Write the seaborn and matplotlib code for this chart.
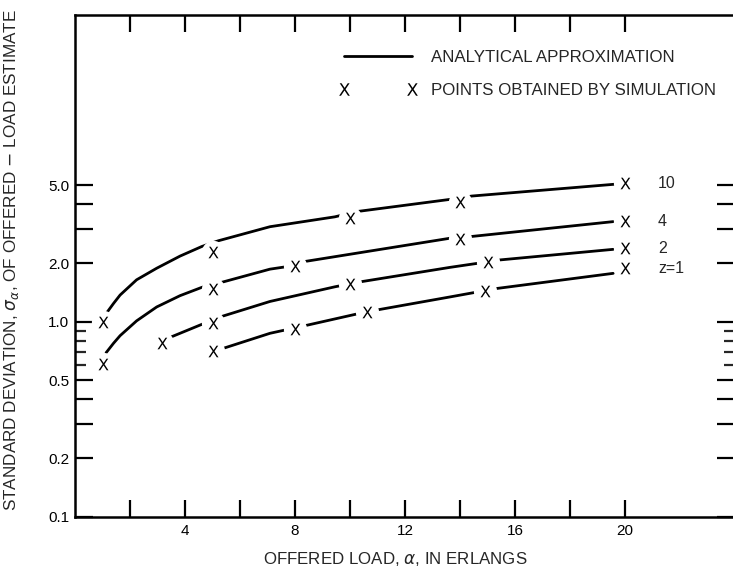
import numpy as np
import pandas as pd
import matplotlib
matplotlib.use('Agg')
import matplotlib.pyplot as plt
from matplotlib.lines import Line2D
from matplotlib.ticker import FixedLocator, FuncFormatter
import seaborn as sns

# analytical approximation curves
curve_z10_x = [1.13, 1.40, 1.64, 2.24, 2.97, 3.82, 4.61, 5.21, 7.09, 9.45, 10.24, 13.64, 14.43, 19.70]
curve_z10_y = [1.10, 1.24, 1.37, 1.64, 1.88, 2.17, 2.43, 2.60, 3.07, 3.45, 3.67, 4.24, 4.41, 5.08]
curve_z4_x = [1.13, 1.40, 1.64, 2.24, 2.97, 3.82, 4.61, 5.39, 7.09, 7.64, 8.30, 13.64, 14.36, 19.57]
curve_z4_y = [0.693, 0.775, 0.848, 1.01, 1.19, 1.36, 1.50, 1.60, 1.86, 1.91, 2.03, 2.68, 2.73, 3.26]
curve_z2_x = [3.52, 4.64, 5.39, 7.09, 9.45, 10.36, 13.64, 14.61, 15.39, 19.57]
curve_z2_y = [0.838, 0.973, 1.07, 1.27, 1.51, 1.60, 1.90, 1.99, 2.07, 2.35]
curve_z1_x = [5.39, 7.09, 8.36, 10.18, 10.97, 13.64, 15.33, 19.57]
curve_z1_y = [0.73, 0.872, 0.954, 1.09, 1.148, 1.34, 1.48, 1.77]

# simulation points
sim_z10_x = [1, 5, 10, 14, 20]
sim_z10_y = [1.0, 2.28, 3.40, 4.13, 5.12]
sim_z4_x = [1, 5, 8, 14, 20]
sim_z4_y = [0.61, 1.48, 1.93, 2.65, 3.28]
sim_z2_x = [3.15, 5, 10, 15, 20]
sim_z2_y = [0.775, 0.98, 1.56, 2.03, 2.38]
sim_z1_x = [5, 8, 10.6, 14.9, 20]
sim_z1_y = [0.71, 0.914, 1.117, 1.44, 1.88]

z_labels = ['10', '4', '2', 'z=1']

curves = pd.concat([
    pd.DataFrame({'x': curve_z10_x, 'y': curve_z10_y, 'z': '10'}),
    pd.DataFrame({'x': curve_z4_x, 'y': curve_z4_y, 'z': '4'}),
    pd.DataFrame({'x': curve_z2_x, 'y': curve_z2_y, 'z': '2'}),
    pd.DataFrame({'x': curve_z1_x, 'y': curve_z1_y, 'z': 'z=1'}),
])
sims = pd.concat([
    pd.DataFrame({'x': sim_z10_x, 'y': sim_z10_y, 'z': '10'}),
    pd.DataFrame({'x': sim_z4_x, 'y': sim_z4_y, 'z': '4'}),
    pd.DataFrame({'x': sim_z2_x, 'y': sim_z2_y, 'z': '2'}),
    pd.DataFrame({'x': sim_z1_x, 'y': sim_z1_y, 'z': 'z=1'}),
])

sns.set_theme(style='white')
plt.rcParams['font.family'] = ['Liberation Sans', 'DejaVu Sans']
plt.rcParams['mathtext.fontset'] = 'dejavusans'

W, H = 733, 570
fig = plt.figure(figsize=(W / 100, H / 100), dpi=100)
ax = fig.add_axes([75 / W, 53.3 / H, 660 / W, 501.7 / H])

pal = {k: 'black' for k in z_labels}
sns.lineplot(data=curves, x='x', y='y', hue='z', palette=pal, estimator=None,
             sort=False, linewidth=2.0, legend=False, ax=ax, zorder=2)
# white halo behind each X so the curves break around the points
ax.scatter(sims['x'], sims['y'], s=280, marker='o', color='white', linewidths=0, zorder=3)
xmark = r'$\mathsf{X}$'
sns.scatterplot(data=sims, x='x', y='y', marker=xmark, color='black', s=70,
                linewidth=0, legend=False, ax=ax, zorder=4)

# curve labels at right end
for lab, yv in zip(z_labels, [sim_z10_y[-1], sim_z4_y[-1], sim_z2_y[-1], sim_z1_y[-1]]):
    ax.text(21.2, yv, lab, fontsize=11.5, va='center', ha='left')

ax.set_yscale('log')
ax.set_xlim(0, 24)
ax.set_ylim(0.1, 37.4)

ylong = [0.1, 0.2, 0.3, 0.4, 0.5, 1.0, 2.0, 3.0, 4.0, 5.0]
yshort = [0.6, 0.7, 0.8, 0.9]
ylabeled = [0.1, 0.2, 0.5, 1.0, 2.0, 5.0]
ax.yaxis.set_major_locator(FixedLocator(ylong))
ax.yaxis.set_minor_locator(FixedLocator(yshort))
ax.yaxis.set_major_formatter(FuncFormatter(
    lambda v, _: ('%.1f' % v) if any(abs(v - t) < 1e-9 for t in ylabeled) else ''))
ax.yaxis.set_minor_formatter(FuncFormatter(lambda v, _: ''))

xticks = [2, 4, 6, 8, 10, 12, 14, 16, 18, 20]
ax.xaxis.set_major_locator(FixedLocator(xticks))
ax.xaxis.set_major_formatter(FuncFormatter(lambda v, _: '%d' % v if int(v) % 4 == 0 else ''))

ax.tick_params(axis='y', which='major', direction='in', length=13, width=1.6,
               left=True, right=True, labelsize=11, pad=4, colors='black')
ax.tick_params(axis='y', which='minor', direction='in', length=8, width=1.6,
               left=True, right=True)
ax.tick_params(axis='x', which='major', direction='in', length=12, width=1.6,
               bottom=True, top=True, labelsize=11, pad=5, colors='black')

for s in ax.spines.values():
    s.set_linewidth(1.8)
    s.set_color('black')

ax.set_xlabel(r'OFFERED LOAD, $\alpha$, IN ERLANGS', fontsize=12.2)
ax.xaxis.set_label_coords(0.486, -0.067)
ax.set_ylabel(r'STANDARD DEVIATION, $\sigma_\alpha$, OF OFFERED $-$ LOAD ESTIMATE', fontsize=12.3)
ax.yaxis.set_label_coords(-0.082, 0.512)

handles = [Line2D([], [], color='black', lw=2.0),
           Line2D([], [], color='black', ls='none', marker=xmark, markersize=9, mew=0)]
ax.legend(handles, ['ANALYTICAL APPROXIMATION', 'POINTS OBTAINED BY SIMULATION'],
          loc='upper left', bbox_to_anchor=(339 / W, 1 - 50 / H),
          bbox_transform=fig.transFigure, frameon=False, numpoints=2,
          handlelength=4.6, handletextpad=0.85, labelspacing=1.08, fontsize=12.2,
          borderpad=0, borderaxespad=0)

fig.savefig('out.png', dpi=100)
